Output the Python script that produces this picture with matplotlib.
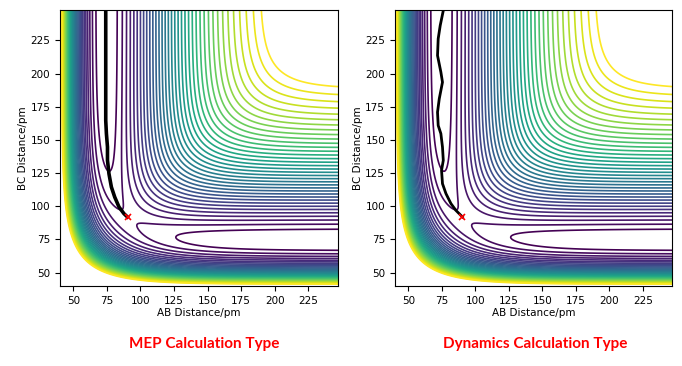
import numpy as np
import matplotlib
matplotlib.use("Agg")
import matplotlib.pyplot as plt

# LEPS surface parameters for collinear H + H2 (kJ/mol, pm)
D_E = 458.2
BETA = 0.01942
R_E = 74.1
SATO = 0.18

# contour levels of the surface (kJ/mol)
levels = np.arange(-447, -90, 10.1)

# minimum energy path (pm)
mep_ab = [90.3, 87.7, 84.0, 80.8, 78.3, 76.5, 75.4, 75.4, 74.6, 74.1, 74.1]
mep_bc = [91.9, 94.4, 99.4, 106.9, 114.5, 124.5, 134.6, 144.6, 154.7, 164.6, 248.0]

# dynamics trajectory (pm)
dyn_ab = [90.4, 85.5, 81.8, 78.1, 75.5, 74.8, 76.1, 75.5, 74.3, 72.3,
          71.8, 73.1, 75.5, 74.3, 71.8, 72.3, 73.8, 76.1]
dyn_bc = [91.9, 96.9, 102.0, 109.5, 117.0, 127.0, 134.6, 144.6, 154.7, 160.9,
          170.9, 181.0, 193.5, 201.1, 213.6, 226.2, 236.2, 247.5]

start = (90.4, 91.9)
titles = ["MEP Calculation Type", "Dynamics Calculation Type"]


def leps(r_ab, r_bc):
    def coulomb(r):
        e1 = np.exp(-BETA * (r - R_E))
        return D_E / 4 * ((3 + SATO) * e1 ** 2 - (2 + 6 * SATO) * e1) / (1 + SATO)

    def exchange(r):
        e1 = np.exp(-BETA * (r - R_E))
        return D_E / 4 * ((1 + 3 * SATO) * e1 ** 2 - (6 + 2 * SATO) * e1) / (1 + SATO)

    r_ac = r_ab + r_bc
    j1, j2, j3 = exchange(r_ab), exchange(r_bc), exchange(r_ac)
    q = coulomb(r_ab) + coulomb(r_bc) + coulomb(r_ac)
    return q - np.sqrt(0.5 * ((j1 - j2) ** 2 + (j2 - j3) ** 2 + (j3 - j1) ** 2))


grid = np.linspace(40, 248, 500)
X, Y = np.meshgrid(grid, grid)
V = leps(X, Y)

fig = plt.figure(figsize=(6.82, 3.66), dpi=100)
ax1 = fig.add_axes([0.088, 0.219, 0.407, 0.754])
ax2 = fig.add_axes([0.579, 0.219, 0.407, 0.754])

paths = [(mep_ab, mep_bc, 2.6), (dyn_ab, dyn_bc, 2.0)]
for ax, (px, py, lw) in zip([ax1, ax2], paths):
    ax.contour(X, Y, V, levels=levels, cmap="viridis", linewidths=1.2)
    ax.plot(px, py, color="black", lw=lw, zorder=3)
    ax.plot(*start, marker="x", color="red", ms=5, mew=1.2, zorder=4)
    ax.set_xlim(40, 247)
    ax.set_ylim(40, 248)
    ax.set_xticks([50, 75, 100, 125, 150, 175, 200, 225])
    ax.set_yticks([50, 75, 100, 125, 150, 175, 200, 225])
    ax.tick_params(labelsize=7.5)
    ax.set_xlabel("AB Distance/pm", fontsize=7.5, labelpad=2)
    ax.set_ylabel("BC Distance/pm", fontsize=7.5, labelpad=2)

fig.text(0.300, 0.06, titles[0], color="red", fontsize=11, fontweight="bold",
         family="Lato", ha="center", va="center")
fig.text(0.784, 0.06, titles[1], color="red", fontsize=11, fontweight="bold",
         family="Lato", ha="center", va="center")

fig.savefig("out.png", dpi=100)
